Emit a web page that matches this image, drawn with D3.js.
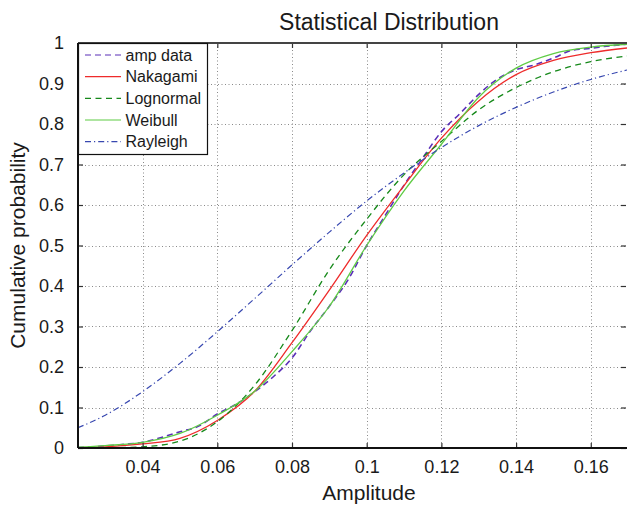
<!DOCTYPE html>
<html><head><meta charset="utf-8">
<script src="https://cdn.jsdelivr.net/npm/d3@7"></script>
<style>body{margin:0;background:#fff}svg{display:block}text{font-family:"Liberation Sans",Arial,Helvetica,sans-serif;fill:#1a1a1a}</style>
</head><body><svg id="c" width="627" height="505"></svg>
<script>
const xTicks = [0.04, 0.06, 0.08, 0.1, 0.12, 0.14, 0.16];
const xTickLabels = ["0.04", "0.06", "0.08", "0.1", "0.12", "0.14", "0.16"];
const yTicks = [0, 0.1, 0.2, 0.3, 0.4, 0.5, 0.6, 0.7, 0.8, 0.9, 1];
const yTickLabels = ["0", "0.1", "0.2", "0.3", "0.4", "0.5", "0.6", "0.7", "0.8", "0.9", "1"];

const fitX = [0.0227, 0.03, 0.04, 0.05, 0.06, 0.07, 0.08, 0.09, 0.1, 0.11, 0.12, 0.13, 0.14, 0.15, 0.16, 0.17];
const nakagami = [0.001, 0.003, 0.010, 0.024, 0.068, 0.140, 0.260, 0.390, 0.525, 0.648, 0.765, 0.857, 0.922, 0.957, 0.976, 0.988];
const lognormal = [0.0, 0.0003, 0.003, 0.017, 0.065, 0.155, 0.290, 0.440, 0.565, 0.675, 0.757, 0.835, 0.890, 0.929, 0.954, 0.968];
const weibull = [0.002, 0.006, 0.014, 0.036, 0.081, 0.140, 0.238, 0.350, 0.500, 0.635, 0.750, 0.866, 0.938, 0.974, 0.990, 0.997];
const rayleigh = [0.050, 0.081, 0.139, 0.209, 0.287, 0.369, 0.452, 0.533, 0.610, 0.679, 0.742, 0.796, 0.841, 0.879, 0.910, 0.934];

const ampX = [0.0227, 0.03, 0.035, 0.04, 0.045, 0.05, 0.055, 0.06, 0.065, 0.07, 0.075, 0.08, 0.085, 0.09, 0.095, 0.1, 0.105, 0.11, 0.115, 0.12, 0.125, 0.13, 0.135, 0.14, 0.145, 0.15, 0.155, 0.16, 0.165, 0.17];
const ampData = [0.001, 0.005, 0.009, 0.014, 0.026, 0.040, 0.054, 0.084, 0.108, 0.139, 0.176, 0.222, 0.290, 0.350, 0.415, 0.500, 0.575, 0.649, 0.716, 0.781, 0.826, 0.873, 0.911, 0.934, 0.946, 0.963, 0.982, 0.987, 0.993, 0.997];

const seriesNames = ["amp data", "Nakagami", "Lognormal", "Weibull", "Rayleigh"];

const svg = d3.select("#c");
const L = 78, R = 627, T = 43, B = 448;
const x = d3.scaleLinear().domain([0.0227, 0.1697]).range([L, R]);
const y = d3.scaleLinear().domain([0, 1]).range([B, T]);

// grid
const grid = svg.append("g").attr("stroke", "#8a8a8a").attr("stroke-width", 1).attr("stroke-dasharray", "1,2.5");
grid.selectAll("line.gx").data(xTicks).join("line")
  .attr("x1", d => Math.round(x(d)) + 0.5).attr("x2", d => Math.round(x(d)) + 0.5).attr("y1", T).attr("y2", B);
grid.selectAll("line.gy").data(yTicks.slice(1, -1)).join("line")
  .attr("y1", d => Math.round(y(d)) + 0.5).attr("y2", d => Math.round(y(d)) + 0.5).attr("x1", L).attr("x2", R);

svg.append("clipPath").attr("id", "clip").append("rect").attr("x", L).attr("y", T - 2).attr("width", R - L).attr("height", B - T + 2);

const styles = [
  {name: seriesNames[0], xs: ampX, ys: ampData, color: "#5a2fb8", dash: "6,4", w: 1.6},
  {name: seriesNames[1], xs: fitX, ys: nakagami, color: "#ee2b2b", dash: null, w: 1.3},
  {name: seriesNames[2], xs: fitX, ys: lognormal, color: "#16891a", dash: "6,4.5", w: 1.3},
  {name: seriesNames[3], xs: fitX, ys: weibull, color: "#5fcc45", dash: null, w: 1.3},
  {name: seriesNames[4], xs: fitX, ys: rayleigh, color: "#3848b0", dash: "6,3,1.2,3", w: 1.2}
];

const line = d3.line().x(d => x(d[0])).y(d => y(d[1])).curve(d3.curveMonotoneX);
const curves = svg.append("g").attr("clip-path", "url(#clip)");
styles.forEach(s => {
  curves.append("path").datum(s.xs.map((v, i) => [v, s.ys[i]]))
    .attr("d", line).attr("fill", "none").attr("stroke", s.color)
    .attr("stroke-width", s.w).attr("stroke-dasharray", s.dash);
});

// axes
const xAxisB = d3.axisBottom(x).tickValues(xTicks).tickFormat((d, i) => xTickLabels[i]).tickSizeInner(-5).tickSizeOuter(0).tickPadding(12);
const gxb = svg.append("g").attr("transform", `translate(0,${B})`).call(xAxisB);
gxb.select(".domain").remove();
gxb.selectAll("text").attr("font-size", 18).attr("dy", "0.71em");
const xAxisT = d3.axisTop(x).tickValues(xTicks).tickFormat("").tickSizeInner(-5).tickSizeOuter(0);
const gxt = svg.append("g").attr("transform", `translate(0,${T})`).call(xAxisT);
gxt.select(".domain").remove();

const yAxisL = d3.axisLeft(y).tickValues(yTicks).tickFormat((d, i) => yTickLabels[i]).tickSizeInner(-5).tickSizeOuter(0).tickPadding(14);
const gyl = svg.append("g").attr("transform", `translate(${L},0)`).call(yAxisL);
gyl.select(".domain").remove();
gyl.selectAll("text").attr("font-size", 18);
const yAxisR = d3.axisRight(y).tickValues(yTicks).tickFormat("").tickSizeInner(-5).tickSizeOuter(0);
const gyr = svg.append("g").attr("transform", `translate(${R - 1},0)`).call(yAxisR);
gyr.select(".domain").remove();
svg.selectAll(".tick line").attr("stroke", "#333").attr("stroke-width", 1.2);
svg.selectAll(".tick text").style("fill", "#1a1a1a").attr("font-family", '"Liberation Sans",Arial,sans-serif');

svg.append("line").attr("x1", L).attr("x2", R).attr("y1", T).attr("y2", T).attr("stroke", "#444").attr("stroke-width", 2);
svg.append("line").attr("x1", L).attr("x2", R).attr("y1", B).attr("y2", B).attr("stroke", "#111").attr("stroke-width", 2);
svg.append("line").attr("x1", L).attr("x2", L).attr("y1", T).attr("y2", B).attr("stroke", "#111").attr("stroke-width", 2);

// titles
svg.append("text").attr("x", 389).attr("y", 30).attr("text-anchor", "middle").attr("font-size", 23).text("Statistical Distribution");
svg.append("text").attr("x", 369).attr("y", 500).attr("text-anchor", "middle").attr("font-size", 21).text("Amplitude");
svg.append("text").attr("transform", `translate(25,${(T + B) / 2}) rotate(-90)`).attr("text-anchor", "middle").attr("font-size", 21).text("Cumulative probability");

// legend
const lg = svg.append("g");
lg.append("rect").attr("x", 78.5).attr("y", 43.5).attr("width", 129).attr("height", 111).attr("fill", "#fff").attr("stroke", "#111").attr("stroke-width", 1.2);
const legY = [55, 76.7, 98.3, 120, 141.7];
styles.forEach((s, i) => {
  lg.append("line").attr("x1", 85).attr("x2", 121).attr("y1", legY[i]).attr("y2", legY[i])
    .attr("stroke", s.color).attr("stroke-width", 1.2).attr("stroke-dasharray", s.dash);
  lg.append("text").attr("x", 125.5).attr("y", legY[i]).attr("dy", "0.36em").attr("font-size", 16).text(s.name);
});
</script></body></html>
